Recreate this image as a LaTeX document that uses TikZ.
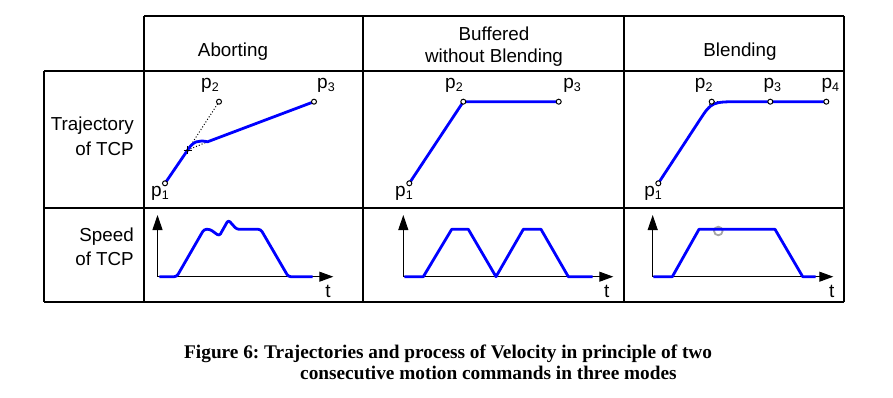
\documentclass[tikz,border=0pt]{standalone}
\usepackage{fontspec}
\setmainfont{Liberation Sans}
\newfontfamily\capfont{Liberation Serif}
\usetikzlibrary{arrows.meta,calc}
\frenchspacing
\newcommand\pp[1]{p\raisebox{-3.5pt}{\fontsize{12.5}{12.5}\selectfont #1}}
\tikzset{
  grid/.style={line width=1.2pt, black},
  lbl/.style={inner sep=0pt, font=\fontsize{18.8}{22.5}\selectfont},
  plbl/.style={inner sep=0pt, font=\fontsize{19}{22}\selectfont},
  traj/.style={line width=2.8pt, blue, line join=round},
  prof/.style={line width=2.8pt, blue, line join=round},
  pt/.style={circle, draw=black, fill=white, line width=1pt, minimum size=5pt, inner sep=0pt},
  aux/.style={black, dotted, line width=1pt},
  axes/.style={line width=1pt, black, {Triangle[length=15pt,width=10pt]}-{Triangle[length=14pt,width=10pt]}},
  captxt/.style={inner sep=0pt, anchor=base west, font=\capfont\bfseries\fontsize{19.3}{23}\selectfont},
}
\begin{document}
\begin{tikzpicture}[x=1pt, y=-1pt]
\useasboundingbox (0,0) rectangle (893,398);
% ---------- table ----------
\draw[grid] (144,16) -- (844,16);
\draw[grid] (44,71) -- (844,71);
\draw[grid] (44,208) -- (844,208);
\draw[grid] (44,302) -- (844,302);
\draw[grid] (44,71) -- (44,302);
\foreach \xx in {144,363,624,844} \draw[grid] (\xx,16) -- (\xx,302);
% ---------- headers ----------
\node[lbl, anchor=base] (hA) at (233,57) {Aborting};
\node[lbl, anchor=base] (hB1) at (494,41) {Buffered};
\node[lbl, anchor=base] (hB2) at (494,63) {without Blending};
\node[lbl, anchor=base] (hC) at (740,57) {Blending};
\node[lbl, anchor=base east] (rT1) at (134,131) {Trajectory};
\node[lbl, anchor=base east] (rT2) at (134,156) {of TCP};
\node[lbl, anchor=base east] (rS1) at (134,241) {Speed};
\node[lbl, anchor=base east] (rS2) at (134,265) {of TCP};
% ---------- panel 1: aborting ----------
\coordinate (a1) at (165,183.3);
\coordinate (a2) at (219,101.7);
\coordinate (a3) at (314,101.7);
\coordinate (aX) at (187.7,150);
\coordinate (aE) at (207.5,141.8);
\draw[aux] (aX) -- (a2);
\draw[aux] (aX) -- (aE);
\draw[traj] (a1) -- (aX) .. controls (193,141.2) and (199,139.8) .. (aE) -- (a3);
\draw[line width=0.9pt] ($(aX)+(-4,0)$) -- ($(aX)+(4,0)$) ($(aX)+(0,-4)$) -- ($(aX)+(0,4)$);
\node[pt] (pa1) at (a1) {};
\node[pt] (pa2) at (a2) {};
\node[pt] (pa3) at (a3) {};
\node[plbl] (la1) at (160,193) {\pp1};
\node[plbl] (la2) at (210,85) {\pp2};
\node[plbl] (la3) at (326,85) {\pp3};
% ---------- panel 2: buffered ----------
\coordinate (b1) at (409.3,183.3);
\coordinate (b2) at (463.3,101.7);
\coordinate (b3) at (558.7,101.7);
\draw[traj] (b1) -- (b2) -- (b3);
\node[pt] (pb1) at (b1) {};
\node[pt] (pb2) at (b2) {};
\node[pt] (pb3) at (b3) {};
\node[plbl] (lb1) at (404,193) {\pp1};
\node[plbl] (lb2) at (454,85) {\pp2};
\node[plbl] (lb3) at (572,85) {\pp3};
% ---------- panel 3: blending ----------
\coordinate (c1) at (658.3,183.3);
\coordinate (c2) at (711.7,101.7);
\coordinate (c3) at (770.3,101.7);
\coordinate (c4) at (826.3,101.7);
\coordinate (cS) at (699.7,120);
\coordinate (cE) at (741.7,101.7);
\draw[aux] (cS) -- (c2) -- (cE);
\draw[traj] (c1) -- (cS) .. controls (c2) .. (cE) -- (c4);
\node[pt] (pc1) at (c1) {};
\node[pt] (pc2) at (c2) {};
\node[pt] (pc3) at (c3) {};
\node[pt] (pc4) at (c4) {};
\node[plbl] (lc1) at (653,193) {\pp1};
\node[plbl] (lc2) at (703.7,85) {\pp2};
\node[plbl] (lc3) at (772.3,85) {\pp3};
\node[plbl] (lc4) at (830.3,85) {\pp4};
% ---------- speed panel 1 ----------
\coordinate (oA) at (157.5,276.7);
\coordinate (yA) at (157.5,215);
\coordinate (xA) at (333.3,276.7);
\draw[axes] (yA) -- (oA) -- (xA);
\node[plbl] (tA) at (328,291) {t};
\draw[prof, rounded corners=2.5pt] (159.3,276.7) -- (176.7,276.7) -- (204,229.3) -- (210,229.3) -- (219.3,236) -- (228.3,220) -- (236.7,229.3) -- (260.7,229.3) -- (288.3,276.7) -- (312.7,276.7);
% ---------- speed panel 2 ----------
\coordinate (oB) at (403.3,276.7);
\coordinate (yB) at (403.3,215);
\coordinate (xB) at (613.3,276.7);
\draw[axes] (yB) -- (oB) -- (xB);
\node[plbl] (tB) at (606.7,291) {t};
\draw[prof] (404.3,276.7) -- (423.3,276.7) -- (451.7,229.3) -- (468.3,229.3) -- (496,276.7) -- (523.3,229.3) -- (541,229.3) -- (568.3,276.7) -- (592.7,276.7);
% ---------- speed panel 3 ----------
\coordinate (oC) at (652.7,276.7);
\coordinate (yC) at (652.7,215);
\coordinate (xC) at (833.3,276.7);
\draw[axes] (yC) -- (oC) -- (xC);
\node[plbl] (tC) at (831.7,291) {t};
\draw[gray!70, line width=1.8pt] (718.3,231) circle (4.3);
\draw[prof] (653.3,276.7) -- (672.3,276.7) -- (699,229.3) -- (775,229.3) -- (802.7,276.7) -- (815.7,276.7);
% ---------- caption ----------
\node[captxt] (cap1) at (184,358) {Figure 6: Trajectories and process of Velocity in principle of two};
\node[captxt] (cap2) at (300,379) {consecutive motion commands in three modes};
\end{tikzpicture}
\end{document}
